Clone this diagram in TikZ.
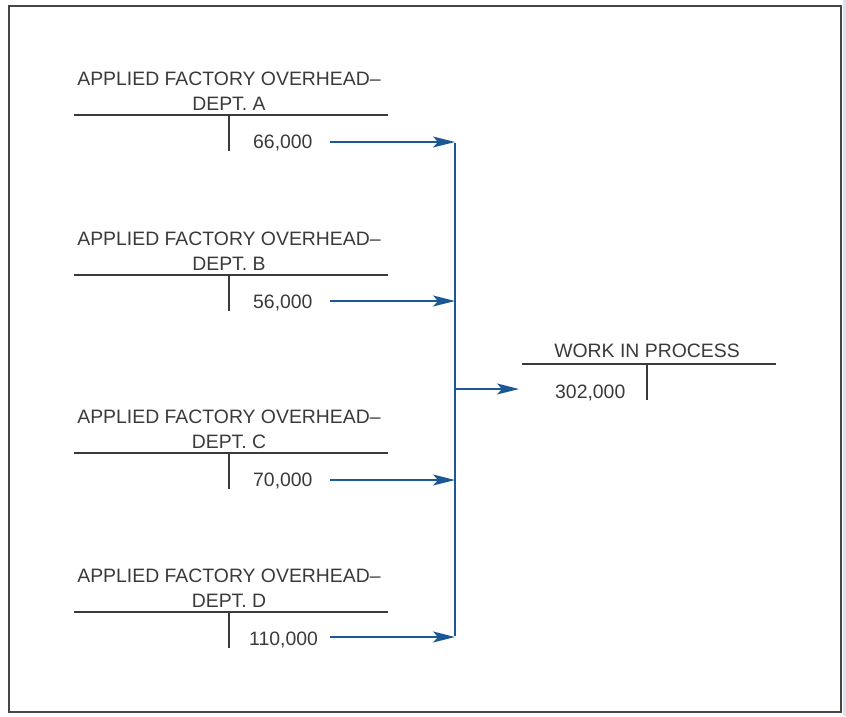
\documentclass[tikz,border=0pt]{standalone}
\usepackage{fontspec}
\setmainfont{Liberation Sans}
\usetikzlibrary{arrows.meta}
\definecolor{ink}{RGB}{58,58,58}
\definecolor{flowblue}{RGB}{28,88,150}
\definecolor{frame}{RGB}{70,70,70}
\definecolor{edge}{RGB}{222,225,236}
\begin{document}
\begin{tikzpicture}[x=1pt,y=-1pt,
  lbl/.style={text=ink,inner sep=0pt,font=\fontsize{19.4}{24.5}\selectfont},
  title/.style={lbl,align=center,anchor=base},
  amount/.style={lbl,anchor=base west},
  tline/.style={draw=ink,line width=1.3pt},
  flow/.style={draw=flowblue,line width=1.4pt,
    -{Stealth[length=22pt,width=11pt,inset=5pt]}},
  bus/.style={draw=flowblue,line width=1.4pt}]
\useasboundingbox (0,0) rectangle (846,716);
% outer frame with a faint edge on the right
\fill[edge] (842.5,0) rectangle (846,716);
\draw[frame,line width=1.5pt] (9,6) rectangle (841,712);

% ---- T accounts on the left: title, rule, stem, amount, arrow tail
\foreach \id/\ry/\amt/\ax/\ay in {A/115/{66,000}/253/142, B/275/{56,000}/253/301, C/453/{70,000}/253/480, D/612/{110,000}/249/637}{
  \node[title] (title\id) at (229,\ry-5) {APPLIED FACTORY OVERHEAD--\\DEPT.~\id};
  \coordinate (ruleL\id) at (74,\ry);
  \coordinate (ruleR\id) at (388,\ry);
  \coordinate (stemT\id) at (229,\ry);
  \coordinate (stemB\id) at (229,\ry+36);
  \draw[tline] (ruleL\id) -- (ruleR\id);
  \draw[tline] (stemT\id) -- (stemB\id);
  \node[amount] (amt\id) at (\ax,\ry+33) {\amt};
  \coordinate (tail\id) at (330,\ay);
  \coordinate (bus\id) at (455,\ay);
}

% ---- collecting line
\coordinate (busW) at (455,389);
\draw[bus] ([yshift=-0.7pt]busA) -- ([yshift=0.7pt]busD);
\foreach \id in {A,B,C,D}{
  \draw[flow] (tail\id) -- (bus\id);
}

% ---- work in process account
\node[lbl,anchor=base] (wipTitle) at (647,357) {WORK IN PROCESS};
\coordinate (wipL) at (522,364);
\coordinate (wipR) at (776,364);
\coordinate (wipT) at (647,364);
\coordinate (wipB) at (647,400);
\coordinate (wipIn) at (519,389);
\draw[tline] (wipL) -- (wipR);
\draw[tline] (wipT) -- (wipB);
\node[amount] (wipAmt) at (555,398) {302,000};
\draw[flow] (busW) -- (wipIn);
\end{tikzpicture}
\end{document}
